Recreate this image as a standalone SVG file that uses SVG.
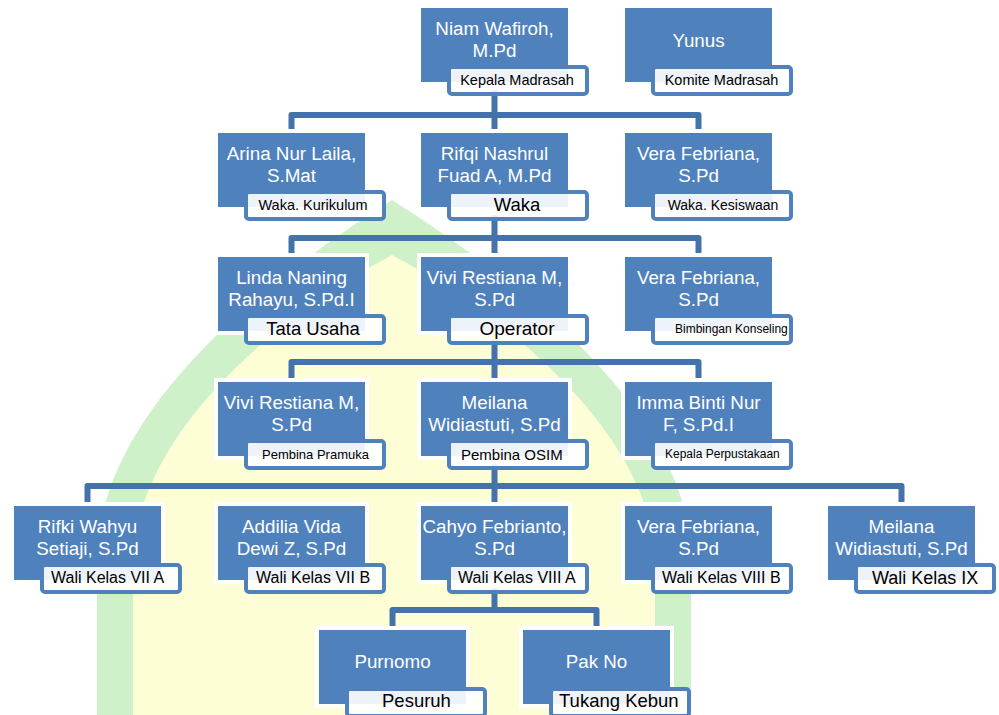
<svg xmlns="http://www.w3.org/2000/svg" width="999" height="715" viewBox="0 0 999 715">
<style>
.halo{fill:#fff}
.box{fill:#4f81bd}
.sub{fill:#fff;fill-opacity:.9;stroke:#4f81bd;stroke-width:4}
.name{font-family:'Liberation Sans',Arial,sans-serif;font-size:18.8px;fill:#fff;text-anchor:middle}
.lbl{font-family:'Liberation Sans',Arial,sans-serif;fill:#000}
.mid{text-anchor:middle}
.conn path{fill:none;stroke:#4472aa;stroke-width:6;stroke-linejoin:round}
</style>
<rect width="999" height="715" fill="#fff"/>
<g id="watermark">
<path d="M97 715 L97 560 C97 420 250 290 392 200 C534 290 691 420 691 560 L691 715 Z" fill="#cff1c9"/>
<path d="M133 715 L133 565 C133 440 270 320 392 255 C514 320 655 440 655 565 L655 715 Z" fill="#fefed6"/>
</g>
<g class="conn" id="connectors">
<path d="M291.5 136 V115 H698.5 V136 M494.5 90 V136"/>
<path d="M291.5 260 V238 H698.5 V260 M494.5 215 V260"/>
<path d="M291.5 385 V362 H698.5 V385 M494.5 339 V385"/>
<path d="M87.5 509 V486 H901.5 V509 M494.5 464 V509"/>
<path d="M392.5 633 V610 H596.5 V633 M494.5 588 V610"/>
</g>
<g id="n-niam" transform="translate(421,8)">
<rect class="halo" x="-4" y="-4" width="155" height="82"/><rect class="box" width="147" height="74"/><rect class="sub" x="28" y="59" width="138" height="27" rx="3"/>
<text class="name" x="73.5" y="27">Niam Wafiroh,</text><text class="name" x="73.5" y="49">M.Pd</text>
<text class="lbl mid" x="96" y="77" font-size="14.5">Kepala Madrasah</text>
</g>
<g id="n-yunus" transform="translate(625,8)">
<rect class="halo" x="-4" y="-4" width="155" height="82"/><rect class="box" width="147" height="74"/><rect class="sub" x="28" y="59" width="138" height="27" rx="3"/>
<text class="name" x="73.5" y="39">Yunus</text>
<text class="lbl mid" x="96.5" y="77" font-size="14.5">Komite Madrasah</text>
</g>
<g id="n-arina" transform="translate(218,133)">
<rect class="halo" x="-4" y="-4" width="155" height="82"/><rect class="box" width="147" height="74"/><rect class="sub" x="28" y="59" width="138" height="27" rx="3"/>
<text class="name" x="73.5" y="27">Arina Nur Laila,</text><text class="name" x="73.5" y="49">S.Mat</text>
<text class="lbl mid" x="95" y="77" font-size="14.5">Waka. Kurikulum</text>
</g>
<g id="n-rifqi" transform="translate(421,133)">
<rect class="halo" x="-4" y="-4" width="155" height="82"/><rect class="box" width="147" height="74"/><rect class="sub" x="28" y="59" width="138" height="27" rx="3"/>
<text class="name" x="73.5" y="27">Rifqi Nashrul</text><text class="name" x="73.5" y="49">Fuad A, M.Pd</text>
<text class="lbl mid" x="96" y="78" font-size="18.5">Waka</text>
</g>
<g id="n-vera1" transform="translate(625,133)">
<rect class="halo" x="-4" y="-4" width="155" height="82"/><rect class="box" width="147" height="74"/><rect class="sub" x="28" y="59" width="138" height="27" rx="3"/>
<text class="name" x="73.5" y="27">Vera Febriana,</text><text class="name" x="73.5" y="49">S.Pd</text>
<text class="lbl mid" x="98" y="77" font-size="14">Waka. Kesiswaan</text>
</g>
<g id="n-linda" transform="translate(218,257)">
<rect class="halo" x="-4" y="-4" width="155" height="82"/><rect class="box" width="147" height="74"/><rect class="sub" x="28" y="59" width="138" height="27" rx="3"/>
<text class="name" x="73.5" y="27">Linda Naning</text><text class="name" x="73.5" y="49">Rahayu, S.Pd.I</text>
<text class="lbl mid" x="95" y="78" font-size="18.5">Tata Usaha</text>
</g>
<g id="n-vivi1" transform="translate(421,257)">
<rect class="halo" x="-4" y="-4" width="155" height="82"/><rect class="box" width="147" height="74"/><rect class="sub" x="28" y="59" width="138" height="27" rx="3"/>
<text class="name" x="73.5" y="27">Vivi Restiana M,</text><text class="name" x="73.5" y="49">S.Pd</text>
<text class="lbl mid" x="96" y="78" font-size="19">Operator</text>
</g>
<g id="n-vera2" transform="translate(625,257)">
<rect class="halo" x="-4" y="-4" width="155" height="82"/><rect class="box" width="147" height="74"/><rect class="sub" x="28" y="59" width="138" height="27" rx="3"/>
<text class="name" x="73.5" y="27">Vera Febriana,</text><text class="name" x="73.5" y="49">S.Pd</text>
<text class="lbl" x="50" y="76" font-size="12">Bimbingan Konseling</text>
</g>
<g id="n-vivi2" transform="translate(218,382)">
<rect class="halo" x="-4" y="-4" width="155" height="82"/><rect class="box" width="147" height="74"/><rect class="sub" x="28" y="59" width="138" height="27" rx="3"/>
<text class="name" x="73.5" y="27">Vivi Restiana M,</text><text class="name" x="73.5" y="49">S.Pd</text>
<text class="lbl" x="44" y="77" font-size="13">Pembina Pramuka</text>
</g>
<g id="n-meilana1" transform="translate(421,382)">
<rect class="halo" x="-4" y="-4" width="155" height="82"/><rect class="box" width="147" height="74"/><rect class="sub" x="28" y="59" width="138" height="27" rx="3"/>
<text class="name" x="73.5" y="27">Meilana</text><text class="name" x="73.5" y="49">Widiastuti, S.Pd</text>
<text class="lbl" x="40" y="78" font-size="15">Pembina OSIM</text>
</g>
<g id="n-imma" transform="translate(625,382)">
<rect class="halo" x="-4" y="-4" width="155" height="82"/><rect class="box" width="147" height="74"/><rect class="sub" x="28" y="59" width="138" height="27" rx="3"/>
<text class="name" x="73.5" y="27">Imma Binti Nur</text><text class="name" x="73.5" y="49">F, S.Pd.I</text>
<text class="lbl" x="40" y="76" font-size="12">Kepala Perpustakaan</text>
</g>
<g id="n-rifki" transform="translate(14,506)">
<rect class="halo" x="-4" y="-4" width="155" height="82"/><rect class="box" width="147" height="74"/><rect class="sub" x="28" y="59" width="138" height="27" rx="3"/>
<text class="name" x="73.5" y="27">Rifki Wahyu</text><text class="name" x="73.5" y="49">Setiaji, S.Pd</text>
<text class="lbl" x="37" y="77" font-size="16">Wali Kelas VII A</text>
</g>
<g id="n-addilia" transform="translate(218,506)">
<rect class="halo" x="-4" y="-4" width="155" height="82"/><rect class="box" width="147" height="74"/><rect class="sub" x="28" y="59" width="138" height="27" rx="3"/>
<text class="name" x="73.5" y="27">Addilia Vida</text><text class="name" x="73.5" y="49">Dewi Z, S.Pd</text>
<text class="lbl" x="38" y="77" font-size="16">Wali Kelas VII B</text>
</g>
<g id="n-cahyo" transform="translate(421,506)">
<rect class="halo" x="-4" y="-4" width="155" height="82"/><rect class="box" width="147" height="74"/><rect class="sub" x="28" y="59" width="138" height="27" rx="3"/>
<text class="name" x="73.5" y="27">Cahyo Febrianto,</text><text class="name" x="73.5" y="49">S.Pd</text>
<text class="lbl" x="37" y="77" font-size="16">Wali Kelas VIII A</text>
</g>
<g id="n-vera3" transform="translate(625,506)">
<rect class="halo" x="-4" y="-4" width="155" height="82"/><rect class="box" width="147" height="74"/><rect class="sub" x="28" y="59" width="138" height="27" rx="3"/>
<text class="name" x="73.5" y="27">Vera Febriana,</text><text class="name" x="73.5" y="49">S.Pd</text>
<text class="lbl" x="37" y="77" font-size="16">Wali Kelas VIII B</text>
</g>
<g id="n-meilana2" transform="translate(828,506)">
<rect class="halo" x="-4" y="-4" width="155" height="82"/><rect class="box" width="147" height="74"/><rect class="sub" x="28" y="59" width="138" height="27" rx="3"/>
<text class="name" x="73.5" y="27">Meilana</text><text class="name" x="73.5" y="49">Widiastuti, S.Pd</text>
<text class="lbl" x="44" y="78" font-size="18">Wali Kelas IX</text>
</g>
<g id="n-purnomo" transform="translate(319,630)">
<rect class="halo" x="-4" y="-4" width="155" height="82"/><rect class="box" width="147" height="74"/><rect class="sub" x="28" y="59" width="138" height="27" rx="3"/>
<text class="name" x="73.5" y="38">Purnomo</text>
<text class="lbl" x="63" y="77" font-size="18.5">Pesuruh</text>
</g>
<g id="n-pakno" transform="translate(523,630)">
<rect class="halo" x="-4" y="-4" width="155" height="82"/><rect class="box" width="147" height="74"/><rect class="sub" x="28" y="59" width="138" height="27" rx="3"/>
<text class="name" x="73.5" y="38">Pak No</text>
<text class="lbl" x="36" y="77" font-size="18.5">Tukang Kebun</text>
</g>
</svg>
